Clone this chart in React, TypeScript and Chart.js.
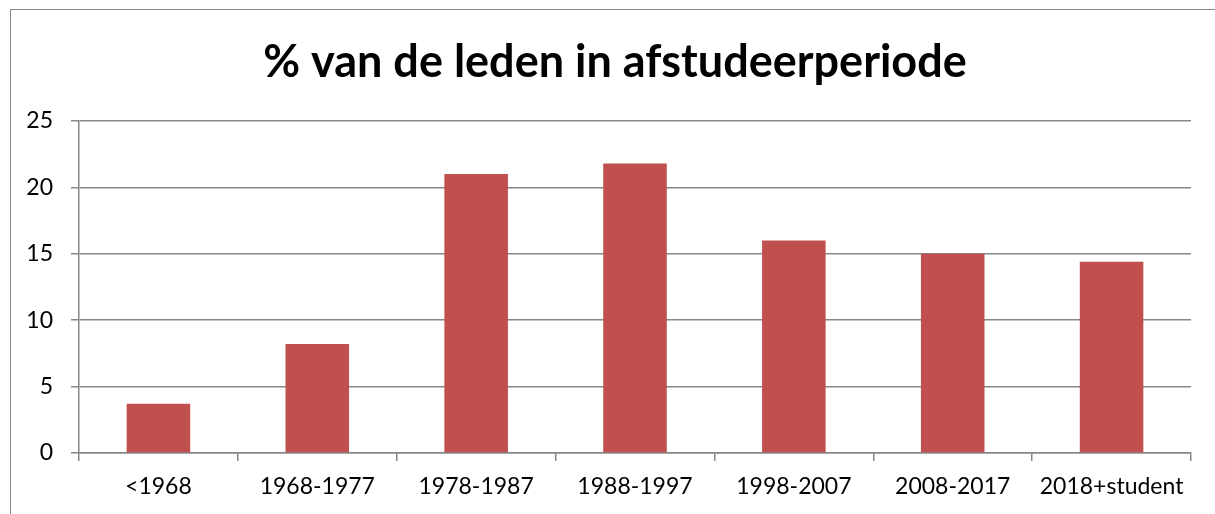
import React, { useEffect, useRef } from "react";
import { Chart, registerables } from "chart.js";

Chart.register(...registerables);

const categories = ["<1968", "1968-1977", "1978-1987", "1988-1997", "1998-2007", "2008-2017", "2018+student"];
const percentages = [3.7, 8.2, 21.0, 21.8, 16.0, 15.0, 14.4];
const titleText = "% van de leden in afstudeerperiode";
const yTicks = [0, 5, 10, 15, 20, 25];

const W = 1215;
const H = 514;
const GRID = "#878787";
const FONT = "Lato, 'Open Sans', sans-serif";

const titlePlugin = {
  id: "offsetTitle",
  afterDraw(chart: any) {
    const ctx = chart.ctx;
    ctx.save();
    ctx.font = `bold 45px ${FONT}`;
    ctx.fillStyle = "#000";
    ctx.textAlign = "center";
    ctx.textBaseline = "middle";
    ctx.fillText(titleText, 615, 62);
    ctx.restore();
  },
};

export default function App() {
  const ref = useRef<HTMLCanvasElement | null>(null);

  useEffect(() => {
    if (!ref.current) return;
    const chart = new Chart(ref.current, {
      type: "bar",
      data: {
        labels: categories,
        datasets: [
          {
            data: percentages,
            backgroundColor: "#C0504D",
            borderWidth: 0,
            categoryPercentage: 1,
            barPercentage: 0.4,
          },
        ],
      },
      plugins: [titlePlugin],
      options: {
        responsive: false,
        animation: false,
        layout: { padding: { top: 121, right: 24, bottom: 0, left: 0 } },
        plugins: {
          legend: { display: false },
          tooltip: { enabled: false },
          title: { display: false },
        },
        scales: {
          x: {
            offset: true,
            grid: {
              offset: true,
              drawOnChartArea: false,
              drawTicks: true,
              tickLength: 8,
              color: GRID,
              lineWidth: 1.5,
            },
            border: { display: true, color: GRID, width: 1.5 },
            ticks: {
              color: "#000",
              font: { family: FONT, size: 23 },
              padding: 12,
              maxRotation: 0,
              autoSkip: false,
            },
            afterFit: (scale: any) => {
              scale.height = 61;
            },
          },
          y: {
            min: 0,
            max: 25,
            afterBuildTicks: (scale: any) => {
              scale.ticks = yTicks.map((v) => ({ value: v }));
            },
            grid: {
              color: GRID,
              lineWidth: 1.5,
              drawTicks: true,
              tickLength: 8,
            },
            border: { display: true, color: GRID, width: 1.5 },
            ticks: {
              color: "#000",
              font: { family: FONT, size: 23 },
              padding: 18,
            },
            afterFit: (scale: any) => {
              scale.width = 79;
            },
          },
        },
      },
    } as any);
    return () => chart.destroy();
  }, []);

  return (
    <div style={{ position: "absolute", left: 0, top: 0, width: W, height: H, background: "#fff" }}>
      <canvas ref={ref} width={W} height={H} style={{ position: "absolute", left: 0, top: 0, width: W, height: H }} />
      <div
        style={{
          position: "absolute",
          left: 10,
          top: 9,
          right: 0,
          bottom: 0,
          borderLeft: `1.5px solid ${GRID}`,
          borderTop: `1.5px solid ${GRID}`,
          pointerEvents: "none",
        }}
      />
    </div>
  );
}
